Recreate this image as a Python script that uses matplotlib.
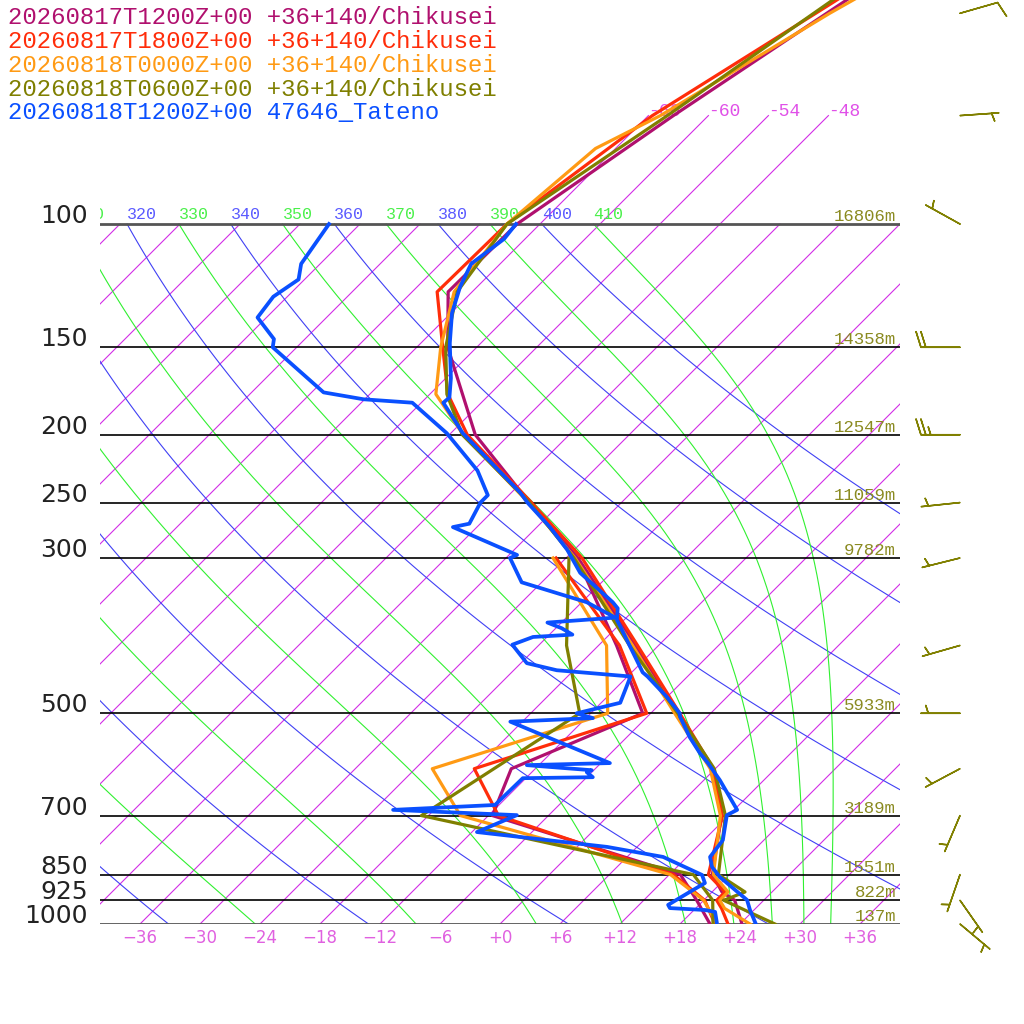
import numpy as np
import matplotlib
matplotlib.use("Agg")
import matplotlib.pyplot as plt

# ---------------- data (pressure hPa, temperature degC) ----------------
run_labels = [
    "20260817T1200Z+00 +36+140/Chikusei",
    "20260817T1800Z+00 +36+140/Chikusei",
    "20260818T0000Z+00 +36+140/Chikusei",
    "20260818T0600Z+00 +36+140/Chikusei",
    "20260818T1200Z+00 47646_Tateno",
]
run_colors = ["#b0106e", "#ff2d0a", "#ff9a14", "#7f7f00", "#0a50ff"]

# 20260817T1200Z model
p_t1 = [1000, 925, 900, 850, 700, 600, 500, 400, 300, 250, 200, 150, 125, 100, 70, 50, 30]
t1 = [24.2, 21.1, 19.0, 16.3, 11.3, 5.7, -3.5, -14.3, -28.8, -39.2, -51.4, -62.9, -68.4, -68.3, -63.5, -58.4, -50.6]
p_d1 = [1000, 925, 850, 700, 600, 500, 400, 300]
d1 = [21.0, 17.3, 13.1, -11.6, -14.4, -6.8, -16.2, -28.9]

# 20260817T1800Z model
p_t2 = [1000, 950, 925, 900, 850, 700, 600, 500, 400, 300, 250, 200, 175, 150, 125, 100, 70, 50, 30]
t2 = [22.8, 20.6, 19.3, 19.3, 15.9, 11.4, 5.8, -3.1, -14.1, -28.4, -39.0, -52.2, -58.2, -63.4, -69.5, -69.3, -65.6, -59.5, -50.4]
p_d2 = [1000, 925, 850, 700, 600, 500, 400, 300]
d2 = [21.5, 18.1, 12.4, -11.0, -18.1, -6.4, -15.9, -31.0]

# 20260818T0000Z model
p_t3 = [1000, 950, 925, 900, 850, 700, 600, 500, 400, 300, 250, 200, 175, 150, 125, 100, 78, 70, 50, 30]
t3 = [25.0, 20.9, 19.6, 19.6, 16.4, 11.2, 5.5, -3.6, -14.6, -29.1, -39.3, -52.6, -59.4, -63.6, -67.8, -69.3, -68.0, -64.8, -58.1, -46.2]
p_d3 = [1000, 925, 850, 700, 600, 500, 400, 300]
d3 = [21.7, 18.0, 12.1, -14.8, -22.3, -10.3, -17.2, -31.3]

# 20260818T0600Z model
p_t4 = [1000, 925, 900, 850, 700, 600, 500, 400, 300, 250, 200, 175, 150, 125, 100, 70, 50, 30]
t4 = [27.5, 20.0, 21.3, 16.9, 11.7, 5.9, -3.3, -14.9, -29.2, -39.2, -52.7, -58.3, -63.1, -67.5, -69.3, -64.1, -59.7, -53.0]
p_d4 = [1000, 925, 850, 700, 500, 400, 300]
d4 = [21.3, 18.9, 14.4, -18.7, -13.1, -21.2, -29.7]

# 20260818T1200Z Tateno sounding
p_t5 = [1012, 955, 924, 857, 829, 802, 759, 699, 687, 623, 589, 570, 541, 506, 500, 474,
        443, 437, 376, 368, 354, 347, 315, 292, 271, 250, 242, 199, 180, 177, 166, 148,
        134, 123, 114, 105, 100]
t5 = [26.1, 23.6, 22.3, 17.3, 15.5, 14.3, 13.9, 11.8, 12.3, 7.6, 4.7, 2.9, 0.3, -2.7, -3.1, -6.0,
      -10.0, -10.9, -17.7, -18.7, -19.8, -20.9, -27.1, -30.7, -34.7, -39.4, -41.1, -52.8, -57.8, -57.7, -59.5, -63.1,
      -65.9, -67.7, -68.9, -68.1, -68.4]
p_d5 = [1012, 997, 961, 955, 949, 939, 903, 874, 851, 802, 776, 739, 699, 687, 676, 619,
        617, 607, 603, 593, 589, 514, 508, 500, 483, 443, 434, 424, 399, 389, 386, 378,
        371, 365, 347, 325, 300, 297, 271, 268, 250, 244, 225, 199, 180, 178, 174, 150,
        146, 136, 127, 120, 114, 100]
d5 = [22.0, 21.6, 20.3, 19.1, 15.4, 14.9, 15.7, 16.4, 15.3, 9.6, 3.0, -11.5, -9.2, -22.1, -12.4, -12.3,
      -5.4, -6.5, -6.2, -13.2, -5.1, -19.2, -11.3, -13.4, -10.1, -11.7, -19.7, -23.4, -26.7, -25.4, -21.7, -23.4,
      -25.4, -19.1, -23.5, -32.0, -35.6, -35.2, -44.4, -43.1, -44.1, -44.1, -47.6, -54.4, -60.9, -66.1, -70.8, -80.4,
      -81.1, -84.9, -85.4, -84.6, -85.9, -87.1]

# mandatory levels and their heights
levels = [100, 150, 200, 250, 300, 500, 700, 850, 925, 1000]
level_heights = ["16806m", "14358m", "12547m", "11059m", "9782m", "5933m", "3189m", "1551m", "822m", "137m"]

# winds (direction from, knots)
wind_p = [50, 70, 100, 150, 200, 250, 300, 400, 500, 600, 700, 850, 925, 1000]
wind_dir = [74, 86, 299, 270, 270, 264, 256, 254, 270, 242, 203, 199, 145, 130]
wind_kt = [10, 5, 5, 20, 25, 5, 5, 5, 5, 5, 5, 5, 5, 5]

dry_thetas = list(range(240, 401, 20))
moist_thetas = list(range(250, 411, 20))
isotherms = list(range(-108, 43, 6))
top_isotherms = [-66, -60, -54, -48]
bottom_isotherms = list(range(-36, 37, 6))

# ---------------- skew-T geometry ----------------
SKEW = 30.4          # degC shift per unit ln(1000/p)  (45 degree isotherms)
Y_TOP = 924 / 304    # top of the figure in ln(1000/p)
RD, CP, LV, EPS = 287.04, 1005.7, 2.501e6, 0.622
KAPPA = RD / CP


def yy(p):
    return np.log(1000.0 / np.asarray(p, dtype=float))


def xx(t, p):
    return np.asarray(t, dtype=float) + SKEW * yy(p)


def dtdlnp(t, p):
    tc = t - 273.15
    es = 6.112 * np.exp(17.67 * tc / (tc + 243.5))
    rs = EPS * es / (p - es)
    return (RD * t + LV * rs) / (CP + LV * LV * rs * EPS / (RD * t * t))


def moist_adiabat(theta_top, n=300):
    lnp = np.linspace(np.log(100.0), np.log(1000.0), n)
    t = theta_top * 0.1 ** KAPPA
    out = [t]
    for i in range(1, n):
        h = lnp[i] - lnp[i - 1]
        p0 = np.exp(lnp[i - 1])
        k1 = dtdlnp(t, p0)
        k2 = dtdlnp(t + h * k1, np.exp(lnp[i]))
        t = t + 0.5 * h * (k1 + k2)
        out.append(t)
    return np.exp(lnp), np.array(out) - 273.15


fig = plt.figure(figsize=(10.24, 10.24), dpi=100)
ax = fig.add_axes([100 / 1024, 100 / 1024, 800 / 1024, 924 / 1024])
ax.set_xlim(-40, 40)
ax.set_ylim(0, Y_TOP)
ax.axis("off")

mono = "Liberation Mono"
pp = np.geomspace(1000, 100, 120)
iso_color = "#d22ee6"
bg = dict(lw=0.8, zorder=1)

# isotherms
for t in isotherms:
    ax.plot(xx(np.full_like(pp, t), pp), yy(pp), color=iso_color, **bg)
for t in top_isotherms:
    pu = np.array([100.0, 70.0])
    ax.plot(xx([t, t], pu), yy(pu), color=iso_color, **bg)
    ax.text(xx(t, 70), yy(70), f"{t:d}", color="#e050e8", fontsize=13,
            family=mono, ha="left", va="baseline", zorder=1)

# dry adiabats
for th in dry_thetas:
    tk = th * (pp / 1000.0) ** KAPPA - 273.15
    ax.plot(xx(tk, pp), yy(pp), color="#4040f4", **bg)
    if th >= 320:
        ax.text(xx(tk[-1], 100), yy(100) + 0.018, str(th), color="#5a5aff", fontsize=12,
                family=mono, ha="left", va="baseline", clip_on=True)

# moist adiabats
for th in moist_thetas:
    pm, tm = moist_adiabat(th)
    ax.plot(xx(tm, pm), yy(pm), color="#30f030", **bg)
    if th >= 310:
        ax.text(xx(tm[0], 100), yy(100) + 0.018, str(th), color="#4af04a", fontsize=12,
                family=mono, ha="left", va="baseline", clip_on=True)

# pressure levels
for p, h in zip(levels, level_heights):
    edge = p in (100, 1000)
    ax.axhline(yy(p), color="#555555" if edge else "black", lw=2.0 if edge else 1.2, zorder=2)
    ax.text(-41.2, yy(p) + 0.003, str(p), fontsize=18, color="#222222",
            ha="right", va="baseline", clip_on=False)
    ax.text(39.6, yy(p) + 0.01, h, fontsize=12.5, color="#8a8a20", family=mono,
            ha="right", va="baseline", zorder=2)

# bottom temperature labels
for t in bottom_isotherms:
    lab = "+0" if t == 0 else f"{t:+d}".replace("-", "\u2212")
    ax.text(t, -0.062, lab, fontsize=12, color="#e060e0", ha="center",
            va="baseline", clip_on=False)

# profiles
temps = [(p_t1, t1), (p_t2, t2), (p_t3, t3), (p_t4, t4), (p_t5, t5)]
dews = [(p_d1, d1), (p_d2, d2), (p_d3, d3), (p_d4, d4), (p_d5, d5)]
for i, ((pt, tt), (pd, td)) in enumerate(zip(temps, dews)):
    lw = 2.7 if i == 4 else 2.3
    ax.plot(xx(tt, pt), yy(pt), color=run_colors[i], lw=lw, zorder=3 + i)
    ax.plot(xx(td, pd), yy(pd), color=run_colors[i], lw=lw, zorder=3 + i)

# wind barbs
wd = np.radians(wind_dir)
spd = np.array(wind_kt, dtype=float)
u = -spd * np.sin(wd)
v = -spd * np.cos(wd)
ax.barbs(np.full(len(wind_p), 46.0), yy(wind_p), u, v, length=7.5,
         color="#808000", lw=1.1, clip_on=False, zorder=5)

# run legend
for i, (lab, c) in enumerate(zip(run_labels, run_colors)):
    fig.text(8 / 1024, 1 - (17 + 24 * i) / 1024, lab, color=c, fontsize=17.3,
             family=mono, ha="left", va="center")

fig.savefig("out.png", dpi=100)
